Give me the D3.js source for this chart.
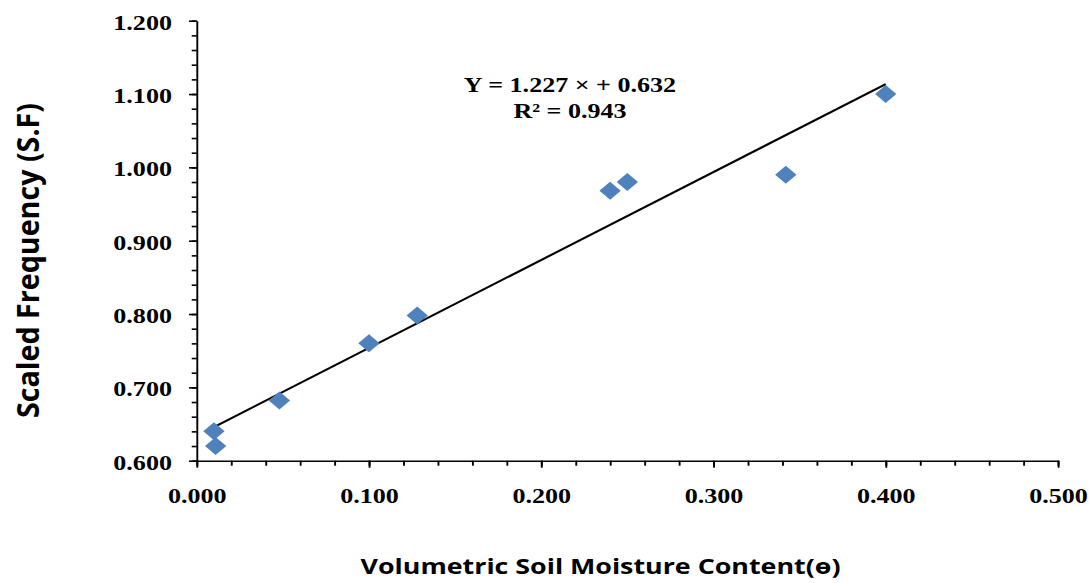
<!DOCTYPE html>
<html>
<head>
<meta charset="utf-8">
<script src="https://cdn.jsdelivr.net/npm/d3@7.9.0/dist/d3.min.js"></script>
<style>
  html, body { margin: 0; padding: 0; background: #fff; }
  svg { display: block; }
  .tick text { font-family: "Liberation Serif", "Times New Roman", serif; font-weight: bold; font-size: 22px; fill: #000; }
  .title { font-family: "Open Sans", "Liberation Sans", sans-serif; font-weight: bold; fill: #000; }
  .eq { font-family: "Liberation Serif", "Times New Roman", serif; font-weight: bold; font-size: 22px; fill: #000; }
</style>
</head>
<body>
<svg id="chart"></svg>
<script>
// moisture content vs scaled frequency
const moisture = [0.010, 0.011, 0.048, 0.100, 0.128, 0.240, 0.250, 0.342, 0.400];
const scaledFreq = [0.640, 0.620, 0.682, 0.760, 0.798, 0.968, 0.980, 0.990, 1.100];
const xMajor = [0, 0.1, 0.2, 0.3, 0.4, 0.5];
const yMajor = [0.6, 0.7, 0.8, 0.9, 1.0, 1.1, 1.2];
const eqLines = ['Y = 1.227 \u00d7 + 0.632', 'R\u00b2 = 0.943'];
const xTitle = 'Volumetric Soil Moisture Content(\u04e9)';
const yTitle = 'Scaled Frequency (S.F)';

// the original is stretched sideways, so draw narrow and stretch the svg
const W = 1091, H = 583, S = 1.185;
const iw = W / S;

const svg = d3.select('#chart')
  .attr('width', W).attr('height', H)
  .attr('viewBox', `0 0 ${iw} ${H}`)
  .attr('preserveAspectRatio', 'none');

const x = d3.scaleLinear().domain([0, 0.5]).range([166, 892.8]);
const y = d3.scaleLinear().domain([0.6, 1.2]).range([460.7, 20.7]);

const fmt = d3.format('.3f');

// minor ticks
svg.append('g')
  .attr('transform', `translate(0,${y(0.6)})`)
  .call(d3.axisBottom(x).tickValues(d3.range(0, 0.5001, 0.02)).tickSize(5).tickFormat(''))
  .call(g => g.select('.domain').remove());
svg.append('g')
  .attr('transform', `translate(${x(0)},0)`)
  .call(d3.axisLeft(y).tickValues(d3.range(0.6, 1.2001, 0.02)).tickSize(4.2).tickFormat(''))
  .call(g => g.select('.domain').remove());

// major axes
const xAxis = svg.append('g')
  .attr('transform', `translate(0,${y(0.6)})`)
  .call(d3.axisBottom(x).tickValues(xMajor).tickSize(7).tickSizeOuter(0).tickPadding(20).tickFormat(fmt));
const yAxis = svg.append('g')
  .attr('transform', `translate(${x(0)},0)`)
  .call(d3.axisLeft(y).tickValues(yMajor).tickSize(6.5).tickSizeOuter(0).tickPadding(14.4).tickFormat(fmt));
yAxis.selectAll('.tick text').attr('dy', '0.38em');

svg.selectAll('.domain, .tick line').attr('stroke', '#000').attr('stroke-width', 1.6);

// trend line from least squares
const pts = moisture.map((m, i) => [m, scaledFreq[i]]);
const mx = d3.mean(moisture), my = d3.mean(scaledFreq);
const slope = d3.sum(pts, p => (p[0] - mx) * (p[1] - my)) / d3.sum(pts, p => (p[0] - mx) ** 2);
const icpt = my - slope * mx;
const ends = d3.extent(moisture);

svg.append('line')
  .attr('x1', x(ends[0])).attr('y1', y(slope * ends[0] + icpt))
  .attr('x2', x(ends[1])).attr('y2', y(slope * ends[1] + icpt))
  .attr('stroke', '#000').attr('stroke-width', 2);

// markers
svg.append('g').selectAll('path')
  .data(pts)
  .join('path')
  .attr('d', d3.symbol(d3.symbolSquare, 162))
  .attr('transform', d => `translate(${x(d[0])},${y(d[1])}) rotate(45)`)
  .attr('fill', '#4f81bd');

// equation
svg.append('text').attr('class', 'eq')
  .attr('x', 481).attr('y', 91.7).attr('text-anchor', 'middle').text(eqLines[0]);
svg.append('text').attr('class', 'eq')
  .attr('x', 481).attr('y', 118.3).attr('text-anchor', 'middle').text(eqLines[1]);

// axis titles
svg.append('text').attr('class', 'title')
  .attr('x', 506.8).attr('y', 574.5).attr('text-anchor', 'middle')
  .attr('textLength', 405).attr('lengthAdjust', 'spacingAndGlyphs')
  .style('font-size', '22px')
  .text(xTitle);
svg.append('text').attr('class', 'title')
  .attr('transform', 'translate(33.2,260.5) rotate(-90)')
  .attr('text-anchor', 'middle')
  .attr('textLength', 315).attr('lengthAdjust', 'spacingAndGlyphs')
  .style('font-size', '25px')
  .text(yTitle);
</script>
</body>
</html>
